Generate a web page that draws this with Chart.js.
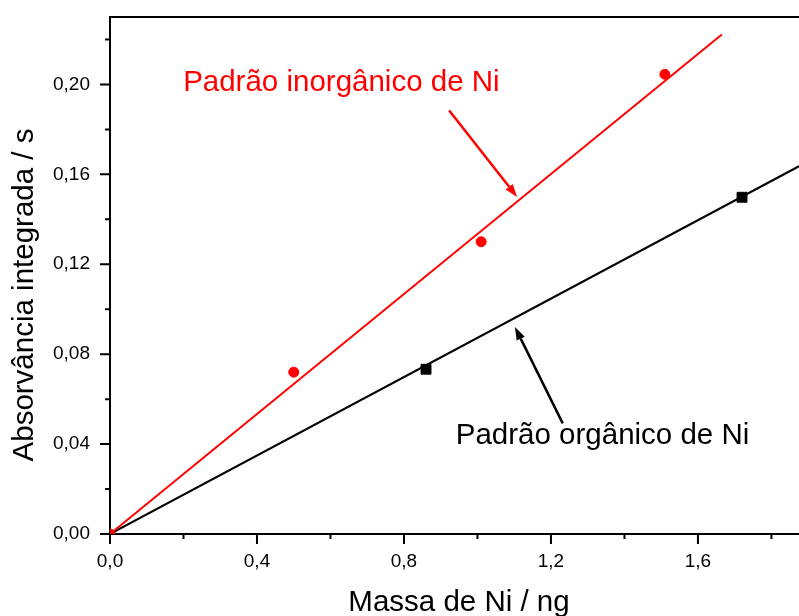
<!DOCTYPE html>
<html>
<head>
<meta charset="utf-8">
<script src="https://cdn.jsdelivr.net/npm/chart.js@4/dist/chart.umd.min.js"></script>
<style>
  body { margin: 0; background: #fff; }
  canvas { display: block; }
</style>
</head>
<body>
<canvas id="myChart" width="799" height="616"></canvas>
<script>
// measured points
const massInorg = [0, 0.50, 1.01, 1.51];
const absInorg = [0, 0.072, 0.130, 0.2045];
const massOrg = [0.86, 1.72];
const absOrg = [0.0733, 0.1498];

// fitted lines (end points)
const fitInorgX = [0, 1.665];
const fitInorgY = [0, 0.2222];
const fitOrgX = [0, 1.875];
const fitOrgY = [0, 0.1636];

// axis ticks
const xMajor = [0, 0.4, 0.8, 1.2, 1.6];
const xMinor = [0.2, 0.6, 1.0, 1.4, 1.8];
const yMajor = [0, 0.04, 0.08, 0.12, 0.16, 0.20];
const yMinor = [0.02, 0.06, 0.10, 0.14, 0.18, 0.22];

const xTitle = "Massa de Ni / ng";
const yTitle = "Absorvância integrada / s";
const labelInorg = "Padrão inorgânico de Ni";
const labelOrg = "Padrão orgânico de Ni";

const font = "'Liberation Sans', Arial, sans-serif";

const toPts = (xs, ys) => xs.map((x, i) => ({ x: x, y: ys[i] }));
const isIn = (arr, v) => arr.some(a => Math.abs(a - v) < 1e-6);
const fmt = (v, d) => v.toFixed(d).replace(".", ",");

// ticks, frame, titles and arrows
const decorations = {
  id: "decorations",
  afterDraw(chart) {
    const ctx = chart.ctx;
    const xs = chart.scales.x;
    const ys = chart.scales.y;
    const area = chart.chartArea;
    ctx.save();
    ctx.strokeStyle = "#000";
    ctx.lineWidth = 2;
    ctx.beginPath();
    ctx.moveTo(area.left - 1, area.top);
    ctx.lineTo(area.right, area.top);
    xMajor.concat(xMinor).forEach(v => {
      const px = xs.getPixelForValue(v);
      const len = isIn(xMajor, v) ? 10 : 5;
      ctx.moveTo(px, area.bottom);
      ctx.lineTo(px, area.bottom + len);
    });
    yMajor.concat(yMinor).forEach(v => {
      const py = ys.getPixelForValue(v);
      const len = isIn(yMajor, v) ? 10 : 5;
      ctx.moveTo(area.left, py);
      ctx.lineTo(area.left - len, py);
    });
    ctx.stroke();

    // axis titles
    ctx.fillStyle = "#000";
    ctx.font = "29.5px " + font;
    ctx.textAlign = "center";
    ctx.textBaseline = "alphabetic";
    ctx.fillText(xTitle, 459, 611);
    ctx.save();
    ctx.translate(33, 295);
    ctx.rotate(-Math.PI / 2);
    ctx.fillText(yTitle, 0, 0);
    ctx.restore();

    // annotations
    const arrow = (x1, y1, x2, y2, color) => {
      const ax = xs.getPixelForValue(x1), ay = ys.getPixelForValue(y1);
      const bx = xs.getPixelForValue(x2), by = ys.getPixelForValue(y2);
      const ang = Math.atan2(by - ay, bx - ax);
      const hl = 13, hw = 4.5;
      ctx.strokeStyle = color;
      ctx.fillStyle = color;
      ctx.lineWidth = 2.5;
      ctx.beginPath();
      ctx.moveTo(ax, ay);
      ctx.lineTo(bx - hl * Math.cos(ang), by - hl * Math.sin(ang));
      ctx.stroke();
      ctx.beginPath();
      ctx.moveTo(bx, by);
      ctx.lineTo(bx - hl * Math.cos(ang) + hw * Math.sin(ang), by - hl * Math.sin(ang) - hw * Math.cos(ang));
      ctx.lineTo(bx - hl * Math.cos(ang) - hw * Math.sin(ang), by - hl * Math.sin(ang) + hw * Math.cos(ang));
      ctx.closePath();
      ctx.fill();
    };
    arrow(0.923, 0.1884, 1.108, 0.1499, "#ff0000");
    arrow(1.232, 0.0492, 1.102, 0.0921, "#000");

    ctx.font = "29.5px " + font;
    ctx.textAlign = "left";
    ctx.fillStyle = "#ff0000";
    ctx.fillText(labelInorg, xs.getPixelForValue(0.199), ys.getPixelForValue(0.1969));
    ctx.fillStyle = "#000";
    ctx.fillText(labelOrg, xs.getPixelForValue(0.941), ys.getPixelForValue(0.040));
    ctx.restore();
  }
};

const data = {
  datasets: [
    {
      label: "fit inorg",
      data: toPts(fitInorgX, fitInorgY),
      showLine: true,
      borderColor: "#ff0000",
      borderWidth: 2,
      pointRadius: 0,
      order: 3
    },
    {
      label: "fit org",
      data: toPts(fitOrgX, fitOrgY),
      showLine: true,
      borderColor: "#000",
      borderWidth: 2,
      pointRadius: 0,
      order: 4
    },
    {
      label: labelInorg,
      data: toPts(massInorg, absInorg),
      showLine: false,
      pointStyle: "circle",
      pointRadius: 5,
      borderWidth: 1,
      backgroundColor: "#ff0000",
      borderColor: "#ff0000",
      order: 1
    },
    {
      label: labelOrg,
      data: toPts(massOrg, absOrg),
      showLine: false,
      pointStyle: "rect",
      pointRadius: 7,
      borderWidth: 1,
      backgroundColor: "#000",
      borderColor: "#000",
      order: 2
    }
  ]
};

const options = {
  responsive: false,
  animation: false,
  layout: { autoPadding: false, padding: { top: 17, right: 0, left: 0, bottom: 0 } },
  plugins: {
    legend: { display: false },
    tooltip: { enabled: false }
  },
  scales: {
    x: {
      type: "linear",
      min: 0,
      max: 1.875,
      afterFit: (scale) => {
        scale.height = 82;
        scale.paddingLeft = 0;
        scale.paddingRight = 0;
      },
      grid: { display: false, drawTicks: false },
      border: { display: true, width: 2, color: "#000" },
      ticks: {
        stepSize: 0.2,
        padding: 16,
        autoSkip: false,
        maxRotation: 0,
        color: "#000",
        font: { family: font, size: 19 },
        callback: (v) => isIn(xMajor, v) ? fmt(v, 1) : ""
      }
    },
    y: {
      type: "linear",
      min: 0,
      max: 0.23,
      afterFit: (scale) => {
        scale.width = 110;
        scale.paddingTop = 0;
        scale.paddingBottom = 0;
      },
      grid: { display: false, drawTicks: false },
      border: { display: true, width: 2, color: "#000" },
      ticks: {
        stepSize: 0.02,
        padding: 20,
        autoSkip: false,
        color: "#000",
        font: { family: font, size: 19 },
        callback: (v) => isIn(yMajor, v) ? fmt(v, 2) : ""
      }
    }
  }
};

let ctx = document.getElementById("myChart").getContext("2d");
let nickelChart = new Chart(ctx, {
  type: "scatter",
  data: data,
  options: options,
  plugins: [decorations]
});
</script>
</body>
</html>
